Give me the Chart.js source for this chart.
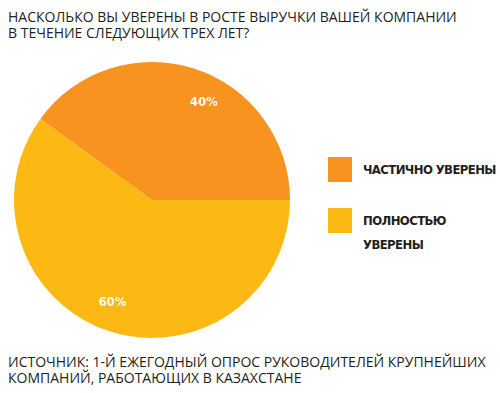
<!DOCTYPE html>
<html><head><meta charset="utf-8">
<script src="https://cdn.jsdelivr.net/npm/chart.js@4"></script>
<style>
html,body{margin:0;padding:0;background:#fff;}
#wrap{position:relative;width:500px;height:393px;overflow:hidden;font-family:"Open Sans",sans-serif;color:#231f20;}
.t{position:absolute;left:8px;font-size:14px;line-height:16px;white-space:nowrap;letter-spacing:0px;}
#title{top:9px;}
#source{top:354px;}
#cv{position:absolute;left:14px;top:62px;width:276px;height:276px;}
.lg{position:absolute;font-family:"DejaVu Sans Condensed","DejaVu Sans",sans-serif;font-weight:bold;font-size:13px;line-height:24px;white-space:nowrap;letter-spacing:-0.6px;}
.sw{position:absolute;width:24px;height:25px;}
</style></head><body>
<div id="wrap">
<div id="title" class="t"></div>
<div id="cv"><canvas id="c" width="276" height="276"></canvas></div>
<div id="legend"></div>
<div id="source" class="t"></div>
</div>
<script>
const titleLines = ["НАСКОЛЬКО ВЫ УВЕРЕНЫ В РОСТЕ ВЫРУЧКИ ВАШЕЙ КОМПАНИИ", "В ТЕЧЕНИЕ СЛЕДУЮЩИХ ТРЕХ ЛЕТ?"];
const sourceLines = ["ИСТОЧНИК: 1-Й ЕЖЕГОДНЫЙ ОПРОС РУКОВОДИТЕЛЕЙ КРУПНЕЙШИХ", "КОМПАНИЙ, РАБОТАЮЩИХ В КАЗАХСТАНЕ"];
const categories = [["ЧАСТИЧНО УВЕРЕНЫ"], ["ПОЛНОСТЬЮ", "УВЕРЕНЫ"]];
const values = [40, 60];
const colors = ["#F7931E", "#FDB913"];
const labelAngleShift = [10, 3];

document.getElementById('title').innerHTML = titleLines.join('<br>');
document.getElementById('source').innerHTML = sourceLines.join('<br>');
const lg = document.getElementById('legend');
const legendTop = [157, 208];
categories.forEach((lines, i) => {
  const sw = document.createElement('div');
  sw.className = 'sw';
  sw.style.left = '328px'; sw.style.top = legendTop[i] + 'px';
  sw.style.background = colors[i];
  lg.appendChild(sw);
  const tx = document.createElement('div');
  tx.className = 'lg';
  tx.style.left = '363px'; tx.style.top = (legendTop[i] + 1) + 'px';
  tx.innerHTML = lines.join('<br>');
  lg.appendChild(tx);
});

const pctLabels = {
  id: 'pctLabels',
  afterDatasetsDraw(chart) {
    const ctx = chart.ctx;
    const meta = chart.getDatasetMeta(0);
    const total = values.reduce((a, b) => a + b, 0);
    ctx.save();
    ctx.fillStyle = '#fff';
    ctx.font = 'bold 13px "DejaVu Sans Condensed","DejaVu Sans",sans-serif';
    ctx.textAlign = 'center';
    ctx.textBaseline = 'middle';
    meta.data.forEach((arc, i) => {
      const p = arc.getProps(['x', 'y', 'startAngle', 'endAngle', 'outerRadius'], true);
      const a = (p.startAngle + p.endAngle) / 2 + labelAngleShift[i] * Math.PI / 180;
      const r = p.outerRadius * 0.8;
      ctx.fillText(Math.round(values[i] / total * 100) + '%', p.x + Math.cos(a) * r, p.y + Math.sin(a) * r);
    });
    ctx.restore();
  }
};

new Chart(document.getElementById('c'), {
  type: 'pie',
  data: {
    labels: categories.map(l => l.join(' ')),
    datasets: [{ data: values, backgroundColor: colors, borderWidth: 0 }]
  },
  options: {
    responsive: false,
    animation: false,
    rotation: -54,
    layout: { padding: 0 },
    plugins: { legend: { display: false }, tooltip: { enabled: false } }
  },
  plugins: [pctLabels]
});
</script>
</body></html>
